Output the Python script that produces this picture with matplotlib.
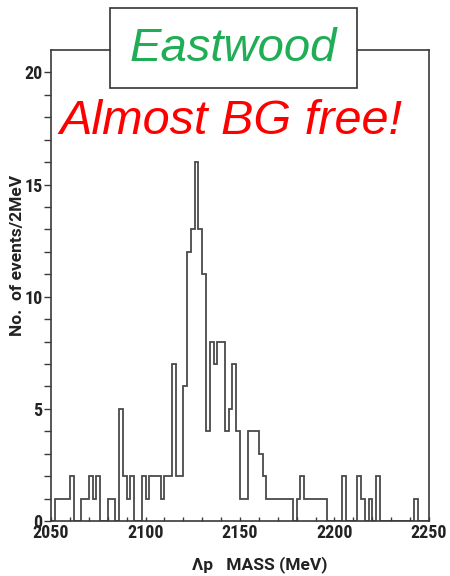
import matplotlib
matplotlib.use("Agg")
import matplotlib.pyplot as plt
import numpy as np
from matplotlib.patches import Rectangle
import logging

logging.getLogger("matplotlib.font_manager").setLevel(logging.ERROR)

# Lambda-p invariant mass spectrum, 2 MeV bins from 2050 to 2250 MeV
mass_lo = 2050
mass_hi = 2250
bin_width = 2
counts = [
    0, 1, 1, 1, 1, 2, 0, 0, 1, 1,      # 2050-2068
    2, 1, 2, 0, 0, 1, 1, 0, 5, 2,      # 2070-2088
    1, 2, 0, 0, 2, 1, 2, 2, 2, 1,      # 2090-2108
    2, 2, 7, 2, 2, 6, 12, 13, 16, 13,  # 2110-2128
    11, 4, 8, 7, 8, 8, 4, 5, 7, 4,     # 2130-2148
    1, 1, 4, 4, 4, 3, 2, 1, 1, 1,      # 2150-2168
    1, 1, 1, 1, 0, 1, 2, 1, 1, 1,      # 2170-2188
    1, 1, 1, 0, 0, 0, 0, 2, 0, 0,      # 2190-2208
    0, 2, 1, 0, 1, 0, 2, 0, 0, 0,      # 2210-2228
    0, 0, 0, 0, 0, 0, 1, 0, 0, 0,      # 2230-2248
]
x_ticklabels = [2050, 2100, 2150, 2200, 2250]
y_ticklabels = [0, 5, 10, 15, 20]

title_text = "Eastwood"
subtitle_text = "Almost BG free!"
xlabel_text = "\u039bp   MASS (MeV)"
ylabel_text = "No.  of events/2MeV"

edges = np.arange(mass_lo, mass_hi + bin_width, bin_width)

fig = plt.figure(figsize=(4.5, 5.76), dpi=100)
ax = fig.add_axes([51 / 450, 1 - 521 / 576, 378 / 450, 471 / 576])

ink = "#3a3a3a"
ax.stairs(counts, edges, color="#4a4a4a", lw=1.3, baseline=0)

ax.set_xlim(mass_lo, mass_hi)
ax.set_ylim(0, 21)

for side in ax.spines.values():
    side.set_color(ink)
    side.set_linewidth(1.2)

narrow = ["Liberation Sans Narrow", "Roboto Condensed", "Roboto", "DejaVu Sans"]
plain = ["Roboto", "DejaVu Sans"]
label_color = "#222222"

ax.set_xticks(np.arange(mass_lo, mass_hi + 1, 10), minor=True)
ax.set_xticks(x_ticklabels)
ax.set_xticklabels([str(v) for v in x_ticklabels], family=narrow,
                   fontweight="bold", fontsize=13, color=label_color)
ax.tick_params(axis="x", which="both", direction="in", length=3,
               width=1, color=ink, pad=2)

ax.set_yticks(np.arange(0, 21, 1), minor=True)
ax.set_yticks(y_ticklabels)
ax.set_yticklabels([str(v) for v in y_ticklabels], family=narrow,
                   fontweight="bold", fontsize=13, color=label_color)
ax.tick_params(axis="y", which="both", direction="out", length=5,
               width=1, color=ink, pad=1)

fig.text(18 / 450, 1 - 255 / 576, ylabel_text, rotation=90, ha="center",
         va="center", family=plain, fontweight="bold", fontsize=12.5,
         color=label_color)
fig.text(260 / 450, 1 - 565 / 576, xlabel_text, ha="center", va="center",
         family=plain, fontweight="bold", fontsize=12.5, color=label_color)

# Title box sitting over the top edge of the frame
box = Rectangle((110 / 450, 1 - 88 / 576), 247 / 450, 80 / 576,
                transform=fig.transFigure, facecolor="white",
                edgecolor="#333333", linewidth=1.2, zorder=5)
fig.add_artist(box)
fig.text(233 / 450, 1 - 49 / 576, title_text, ha="center", va="center",
         family=["Liberation Sans", "DejaVu Sans"], style="italic",
         fontsize=34, color="#1fae55", zorder=6)
fig.text(231 / 450, 1 - 122 / 576, subtitle_text, ha="center", va="center",
         family=["Liberation Sans", "DejaVu Sans"], style="italic",
         fontsize=35, color="#ff0000", zorder=6)

fig.savefig("out.png", dpi=100, facecolor="white")
